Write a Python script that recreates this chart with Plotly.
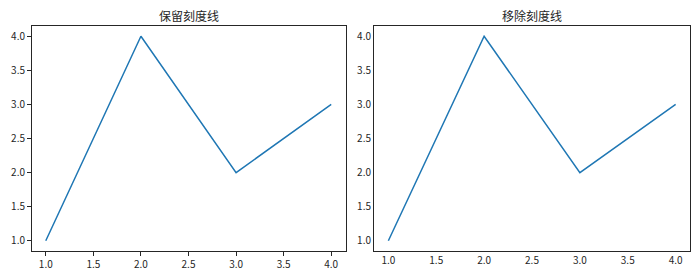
import plotly.graph_objects as go

x_vals = [1, 2, 3, 4]
y_vals = [1, 4, 2, 3]
titles = ["保留刻度线", "移除刻度线"]
tick_vals = [1.0, 1.5, 2.0, 2.5, 3.0, 3.5, 4.0]
tick_text = ["1.0", "1.5", "2.0", "2.5", "3.0", "3.5", "4.0"]

W, H = 700, 280
FONT = "Microsoft YaHei, Noto Sans CJK SC, DejaVu Sans, sans-serif"

fig = go.Figure()
for i in range(2):
    sfx = "" if i == 0 else str(i + 1)
    fig.add_trace(go.Scatter(x=x_vals, y=y_vals, mode="lines",
                             line=dict(color="#1f77b4", width=1.5),
                             xaxis="x" + sfx, yaxis="y" + sfx,
                             showlegend=False, hoverinfo="skip"))

left = [(31.5, 345.5), (374, 690)]
top, bottom = 26, 251
ydom = [1 - bottom / H, 1 - top / H]

layout = dict(width=W, height=H, margin=dict(l=0, r=0, t=0, b=0),
              paper_bgcolor="white", plot_bgcolor="white",
              font=dict(family=FONT, size=10, color="#262626"),
              annotations=[])
for i in range(2):
    sfx = "" if i == 0 else str(i + 1)
    show_ticks = "outside" if i == 0 else ""
    common = dict(showline=True, linecolor="#262626", linewidth=1, mirror=True,
                  showgrid=False, zeroline=False, ticks=show_ticks, ticklen=3.5,
                  tickwidth=0.8, tickcolor="#262626", tickvals=tick_vals, ticktext=tick_text,
                  range=[0.85, 4.15], tickfont=dict(size=10, color="#262626"),
                  fixedrange=True)
    layout["xaxis" + sfx] = dict(domain=[left[i][0] / W, left[i][1] / W],
                                 anchor="y" + sfx, **common)
    layout["yaxis" + sfx] = dict(domain=ydom, anchor="x" + sfx, **common)
    layout["annotations"].append(dict(
        text=titles[i], xref="paper", yref="paper",
        x=(left[i][0] + left[i][1]) / 2 / W, y=1 - 15.5 / H,
        xanchor="center", yanchor="middle", showarrow=False,
        font=dict(size=12, color="#262626", family=FONT)))

fig.update_layout(**layout)
fig.write_html("out.html")
